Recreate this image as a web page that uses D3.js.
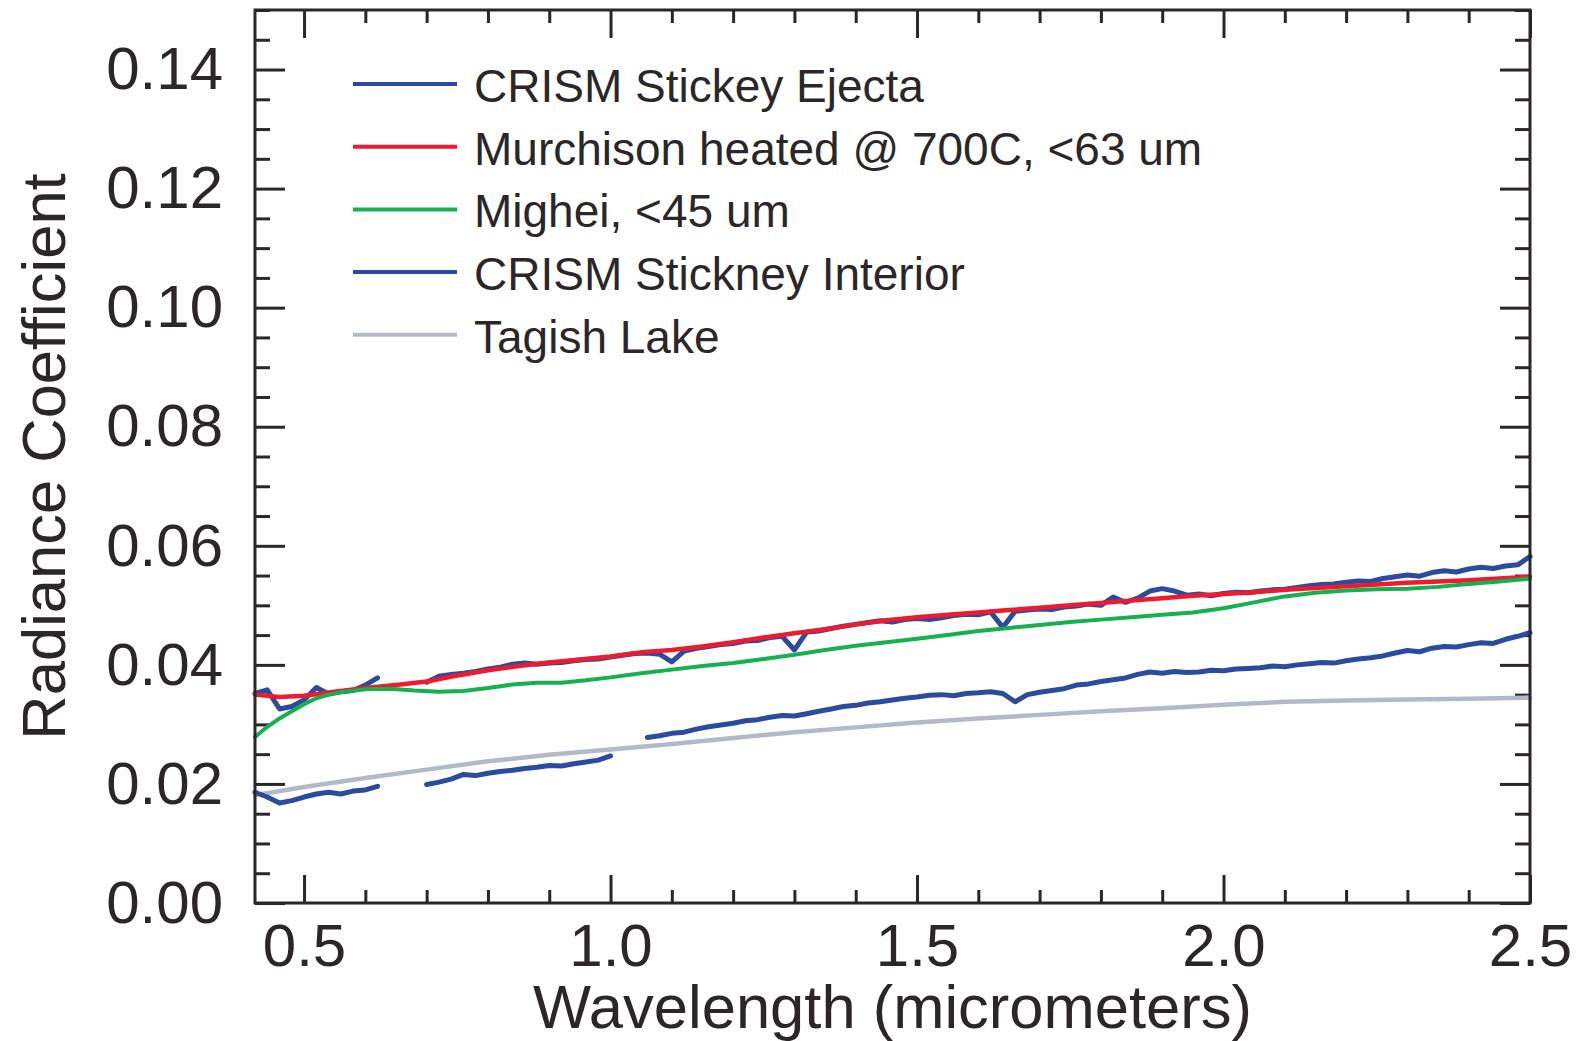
<!DOCTYPE html>
<html>
<head>
<meta charset="utf-8">
<script src="https://cdn.jsdelivr.net/npm/d3@7"></script>
<style>
  body { margin: 0; background: #fff; }
  svg { display: block; font-family: "Liberation Sans", Arial, sans-serif; }
</style>
</head>
<body>
<svg id="chart"></svg>
<script>
// CRISM spectra share one wavelength grid (null = no data)
var crismWave = [
  0.42,0.44,0.46,0.48,0.50,0.52,0.54,0.56,0.58,0.60,
  0.62,0.64,0.66,0.68,0.70,0.72,0.74,0.76,0.78,0.80,
  0.82,0.84,0.86,0.88,0.90,0.92,0.94,0.96,0.98,1.00,
  1.02,1.04,1.06,1.08,1.10,1.12,1.14,1.16,1.18,1.20,
  1.22,1.24,1.26,1.28,1.30,1.32,1.34,1.36,1.38,1.40,
  1.42,1.44,1.46,1.48,1.50,1.52,1.54,1.56,1.58,1.60,
  1.62,1.64,1.66,1.68,1.70,1.72,1.74,1.76,1.78,1.80,
  1.82,1.84,1.86,1.88,1.90,1.92,1.94,1.96,1.98,2.00,
  2.02,2.04,2.06,2.08,2.10,2.12,2.14,2.16,2.18,2.20,
  2.22,2.24,2.26,2.28,2.30,2.32,2.34,2.36,2.38,2.40,
  2.42,2.44,2.46,2.48,2.50
];

var ejecta = [
  0.0352,0.0358,0.0326,0.0330,0.0341,0.0362,0.0351,0.0355,0.0357,0.0366,
  0.0378,null,null,null,0.0371,0.0381,0.0384,0.0386,0.0389,0.0393,
  0.0396,0.0401,0.0403,0.0401,0.0403,0.0404,0.0407,0.0409,0.0410,0.0413,
  0.0416,0.0419,0.0420,0.0418,0.0405,0.0423,0.0428,0.0431,0.0434,0.0436,
  0.0440,0.0441,0.0446,0.0448,0.0425,0.0455,0.0457,0.0461,0.0465,0.0468,
  0.0471,0.0474,0.0472,0.0476,0.0478,0.0476,0.0479,0.0483,0.0485,0.0484,
  0.0489,0.0463,0.0490,0.0492,0.0494,0.0493,0.0497,0.0499,0.0502,0.0500,
  0.0514,0.0505,0.0512,0.0524,0.0528,0.0524,0.0517,0.0519,0.0516,0.0520,
  0.0522,0.0521,0.0524,0.0526,0.0527,0.0530,0.0533,0.0535,0.0536,0.0539,
  0.0541,0.0540,0.0545,0.0548,0.0551,0.0549,0.0555,0.0558,0.0556,0.0561,
  0.0564,0.0562,0.0566,0.0568,0.0582
];

var interior = [
  0.0186,0.0178,0.0168,0.0172,0.0178,0.0183,0.0186,0.0183,0.0188,0.0190,
  0.0196,null,null,null,0.0199,0.0203,0.0208,0.0216,0.0214,0.0218,
  0.0221,0.0223,0.0226,0.0228,0.0231,0.0230,0.0234,0.0237,0.0240,0.0247,
  null,null,0.0278,0.0281,0.0285,0.0287,0.0292,0.0296,0.0299,0.0302,
  0.0306,0.0308,0.0312,0.0315,0.0314,0.0318,0.0322,0.0326,0.0330,0.0332,
  0.0336,0.0338,0.0341,0.0344,0.0346,0.0349,0.0350,0.0348,0.0352,0.0353,
  0.0355,0.0352,0.0338,0.0350,0.0354,0.0357,0.0360,0.0366,0.0368,0.0372,
  0.0375,0.0378,0.0384,0.0388,0.0386,0.0389,0.0387,0.0388,0.0391,0.0390,
  0.0393,0.0394,0.0395,0.0398,0.0397,0.0400,0.0402,0.0404,0.0403,0.0407,
  0.0410,0.0412,0.0415,0.0420,0.0424,0.0422,0.0428,0.0431,0.0430,0.0434,
  0.0437,0.0436,0.0443,0.0448,0.0454
];

var murchWave = [0.42,0.46,0.50,0.55,0.60,0.65,0.70,0.75,0.80,0.85,0.90,0.95,1.00,1.05,1.10,1.15,1.20,1.25,1.30,1.35,1.40,1.45,1.50,1.55,1.60,1.65,1.70,1.75,1.80,1.85,1.90,1.95,2.00,2.05,2.10,2.15,2.20,2.25,2.30,2.35,2.40,2.45,2.50];
var murchison = [0.0350,0.0346,0.0348,0.0355,0.0361,0.0366,0.0372,0.0382,0.0391,0.0398,0.0404,0.0409,0.0414,0.0421,0.0425,0.0431,0.0438,0.0446,0.0453,0.0460,0.0468,0.0475,0.0480,0.0484,0.0488,0.0492,0.0496,0.0500,0.0504,0.0508,0.0512,0.0516,0.0519,0.0522,0.0526,0.0529,0.0532,0.0535,0.0538,0.0540,0.0542,0.0545,0.0548];

var migheiWave = [0.42,0.44,0.46,0.48,0.50,0.52,0.54,0.56,0.60,0.64,0.68,0.72,0.76,0.80,0.84,0.88,0.92,0.96,1.00,1.05,1.10,1.15,1.20,1.25,1.30,1.35,1.40,1.45,1.50,1.55,1.60,1.65,1.70,1.75,1.80,1.85,1.90,1.95,2.00,2.05,2.10,2.15,2.20,2.25,2.30,2.35,2.40,2.45,2.50];
var mighei = [0.0279,0.0296,0.0310,0.0322,0.0334,0.0344,0.0350,0.0354,0.0359,0.0360,0.0357,0.0355,0.0356,0.0361,0.0367,0.0370,0.0370,0.0374,0.0379,0.0386,0.0392,0.0398,0.0403,0.0410,0.0417,0.0425,0.0432,0.0438,0.0444,0.0450,0.0457,0.0462,0.0467,0.0472,0.0476,0.0480,0.0484,0.0488,0.0495,0.0505,0.0515,0.0521,0.0525,0.0527,0.0528,0.0531,0.0536,0.0540,0.0545];

var tagishWave = [0.42,0.50,0.60,0.70,0.80,0.90,1.00,1.10,1.20,1.30,1.40,1.50,1.60,1.70,1.80,1.90,2.00,2.10,2.20,2.30,2.40,2.50];
var tagish = [0.0181,0.0195,0.0210,0.0224,0.0238,0.0249,0.0258,0.0267,0.0277,0.0287,0.0295,0.0303,0.0310,0.0316,0.0322,0.0327,0.0333,0.0338,0.0340,0.0342,0.0343,0.0345];

var xTicks = [0.5, 1.0, 1.5, 2.0, 2.5];
var yTicks = [0.00, 0.02, 0.04, 0.06, 0.08, 0.10, 0.12, 0.14];
var legendLabels = ["CRISM Stickey Ejecta", "Murchison heated @ 700C, <63 um", "Mighei, <45 um", "CRISM Stickney Interior", "Tagish Lake"];
var legendColors = ["#2b4b9f", "#ee1b2e", "#16b04e", "#2b4b9f", "#b3bac6"];

var width = 1583, height = 1041;
var margin = {top: 10, left: 255, right: 53, bottom: 138};
var ink = "#2b2728";

var svg = d3.select("#chart").attr("width", width).attr("height", height);

var x = d3.scaleLinear().domain([0.42, 2.5]).range([margin.left, width - margin.right]);
var y = d3.scaleLinear().domain([0, 0.15]).range([height - margin.bottom, margin.top]);

var xMinor = d3.range(5, 26).map(function(d) { return d / 10; }).filter(function(d) { return Math.abs(d * 2 - Math.round(d * 2)) > 1e-6; });
var yMinor = d3.range(0, 31).map(function(d) { return d * 0.005; }).filter(function(d, i) { return i % 4 !== 0; });

function styleAxis(g) {
  g.select(".domain").remove();
  g.selectAll("line").attr("stroke", ink).attr("stroke-width", 3);
  g.selectAll("text").attr("fill", ink).style("font-size", "60px");
}

// bottom
svg.append("g").attr("transform", `translate(0,${y(0)})`)
  .call(d3.axisBottom(x).tickValues(xTicks).tickSize(-28).tickSizeOuter(0).tickFormat(d3.format(".1f")))
  .call(styleAxis)
  .call(function(g) { g.selectAll("text").attr("y", 63).attr("dy", null); });
svg.append("g").attr("transform", `translate(0,${y(0)})`)
  .call(d3.axisBottom(x).tickValues(xMinor).tickSize(-13).tickSizeOuter(0).tickFormat(""))
  .call(styleAxis);
// top
svg.append("g").attr("transform", `translate(0,${y(0.15)})`)
  .call(d3.axisTop(x).tickValues(xTicks).tickSize(-28).tickSizeOuter(0).tickFormat(""))
  .call(styleAxis);
svg.append("g").attr("transform", `translate(0,${y(0.15)})`)
  .call(d3.axisTop(x).tickValues(xMinor).tickSize(-13).tickSizeOuter(0).tickFormat(""))
  .call(styleAxis);
// left
svg.append("g").attr("transform", `translate(${x(0.42)},0)`)
  .call(d3.axisLeft(y).tickValues(yTicks).tickSize(-30).tickPadding(32).tickSizeOuter(0).tickFormat(d3.format(".2f")))
  .call(styleAxis);
svg.append("g").attr("transform", `translate(${x(0.42)},0)`)
  .call(d3.axisLeft(y).tickValues(yMinor).tickSize(-15).tickSizeOuter(0).tickFormat(""))
  .call(styleAxis);
// right
svg.append("g").attr("transform", `translate(${x(2.5)},0)`)
  .call(d3.axisRight(y).tickValues(yTicks).tickSize(-30).tickSizeOuter(0).tickFormat(""))
  .call(styleAxis);
svg.append("g").attr("transform", `translate(${x(2.5)},0)`)
  .call(d3.axisRight(y).tickValues(yMinor).tickSize(-15).tickSizeOuter(0).tickFormat(""))
  .call(styleAxis);

// data lines
var line = d3.line()
  .defined(function(d) { return d.v != null; })
  .x(function(d) { return x(d.w); })
  .y(function(d) { return y(d.v); });

function pairs(ws, vs) {
  return ws.map(function(w, i) { return {w: w, v: vs[i]}; });
}

var series = [
  {values: pairs(tagishWave, tagish), color: legendColors[4], w: 4.5},
  {values: pairs(crismWave, interior), color: legendColors[3], w: 5},
  {values: pairs(crismWave, ejecta), color: legendColors[0], w: 5},
  {values: pairs(murchWave, murchison), color: legendColors[1], w: 4.5},
  {values: pairs(migheiWave, mighei), color: legendColors[2], w: 4}
];

svg.append("g").selectAll("path")
  .data(series)
  .enter().append("path")
  .attr("d", function(d) { return line(d.values); })
  .attr("fill", "none")
  .attr("stroke", function(d) { return d.color; })
  .attr("stroke-width", function(d) { return d.w; })
  .attr("stroke-linejoin", "round")
  .attr("stroke-linecap", "round");

// frame
svg.append("rect")
  .attr("x", x(0.42)).attr("y", y(0.15))
  .attr("width", x(2.5) - x(0.42)).attr("height", y(0) - y(0.15))
  .attr("fill", "none").attr("stroke", ink).attr("stroke-width", 3);

// legend
var legend = svg.append("g").selectAll("g")
  .data(legendLabels)
  .enter().append("g")
  .attr("transform", function(d, i) { return `translate(353,${84 + i * 62.7})`; });
legend.append("line")
  .attr("x1", 0).attr("x2", 104)
  .attr("stroke", function(d, i) { return legendColors[i]; })
  .attr("stroke-width", 4);
legend.append("text")
  .attr("x", 121).attr("y", 18)
  .attr("fill", ink)
  .style("font-size", "46px")
  .text(function(d) { return d; });

// axis titles
svg.append("text")
  .attr("x", (x(0.42) + x(2.5)) / 2).attr("y", 1028)
  .attr("text-anchor", "middle").attr("fill", ink)
  .style("font-size", "61.5px")
  .text("Wavelength (micrometers)");
svg.append("text")
  .attr("transform", `translate(65,${(y(0) + y(0.15)) / 2}) rotate(-90)`)
  .attr("text-anchor", "middle").attr("fill", ink)
  .style("font-size", "61.5px")
  .text("Radiance Coefficient");
</script>
</body>
</html>
